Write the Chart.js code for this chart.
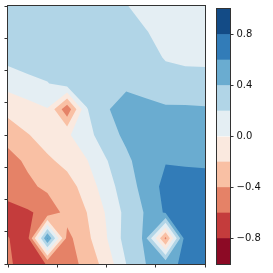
<!DOCTYPE html>
<html>
<head>
<meta charset="utf-8">
<script src="https://cdn.jsdelivr.net/npm/chart.js@4.4.1/dist/chart.umd.min.js"></script>
<style>
  html, body { margin: 0; padding: 0; background: #fff; }
  #wrap { position: relative; width: 273px; height: 273px; }
  #main { position: absolute; left: 0; top: 0; }
  #cbar { position: absolute; left: 210px; top: 0; }
</style>
</head>
<body>
<div id="wrap">
  <canvas id="main" width="273" height="273"></canvas>
  <canvas id="cbar" width="63" height="273"></canvas>
</div>
<script>
// Toạ độ lưới (11 x 11 nút)
const gridX = [0, 0.4, 0.8, 1.2, 1.6, 2.0, 2.4, 2.8, 3.2, 3.6, 4.0];
const gridY = [0, 0.8, 1.6, 2.4, 3.2, 4.0, 4.8, 5.6, 6.4, 7.2, 8.0];

// Giá trị z, mỗi hàng ứng với một giá trị gridY (từ dưới lên)
const zRow0  = [-0.57, -0.69, -0.59, -0.50, -0.33, -0.12, 0.20, 0.40, 0.55, 0.63, 0.70];
const zRow1  = [-0.595, -0.66, 0.62, -0.46, -0.25, -0.01, 0.28, 0.43, -0.45, 0.70, 0.72];
const zRow2  = [-0.66, -0.62, -0.55, -0.32, -0.20, 0.02, 0.26, 0.42, 0.63, 0.72, 0.73];
const zRow3  = [-0.52, -0.45, -0.35, -0.27, -0.13, 0.12, 0.30, 0.48, 0.66, 0.70, 0.70];
const zRow4  = [-0.48, -0.36, -0.23, -0.15, -0.01, 0.19, 0.36, 0.50, 0.59, 0.57, 0.56];
const zRow5  = [-0.32, -0.21, -0.12, -0.03, 0.13, 0.32, 0.44, 0.52, 0.52, 0.50, 0.50];
const zRow6  = [-0.138, -0.07, -0.01, -0.55, 0.19, 0.37, 0.55, 0.46, 0.43, 0.42, 0.41];
const zRow7  = [0.068, 0.12, 0.19, 0.30, 0.32, 0.36, 0.33, 0.32, 0.26, 0.30, 0.32];
const zRow8  = [0.265, 0.34, 0.33, 0.35, 0.36, 0.34, 0.30, 0.25, 0.19, 0.15, 0.13];
const zRow9  = [0.30, 0.33, 0.33, 0.34, 0.35, 0.32, 0.27, 0.21, 0.12, 0.10, 0.10];
const zRow10 = [0.30, 0.32, 0.32, 0.33, 0.33, 0.28, 0.21, 0.12, 0.10, 0.10, 0.10];
const zRows = [zRow0, zRow1, zRow2, zRow3, zRow4, zRow5, zRow6, zRow7, zRow8, zRow9, zRow10];

// Các mức contour và màu (RdBu)
const levels = [-1, -0.8, -0.6, -0.4, -0.2, 0, 0.2, 0.4, 0.6, 0.8, 1];
const bandColors = ['#8c0a25', '#c43c3c', '#e58267', '#f9c0a4', '#fae9df',
                    '#e4eef3', '#b1d5e7', '#6aacd0', '#327cb8', '#134b86'];

const xTicks = [0, 1, 2, 3, 4];
const yTicks = [0, 1, 2, 3, 4, 5, 6, 7, 8];
const cbarTicks = [-0.8, -0.4, 0, 0.4, 0.8];

const AXIS_COLOR = '#333';
const TICK_FONT = { family: "'DejaVu Sans', sans-serif", size: 10 };

// Cắt đa giác, giữ phần có v >= level (nội suy tuyến tính trên cạnh)
function clipAbove(poly, level) {
    const out = [];
    for (let n = 0; n < poly.length; n++) {
        const a = poly[n];
        const b = poly[(n + 1) % poly.length];
        const aIn = a.v >= level;
        const bIn = b.v >= level;
        if (aIn) out.push(a);
        if (aIn !== bIn) {
            const t = (level - a.v) / (b.v - a.v);
            out.push({ x: a.x + t * (b.x - a.x), y: a.y + t * (b.y - a.y), v: level });
        }
    }
    return out;
}

// Vẽ contour tô màu qua scale của Chart.js
const contourPlugin = {
    id: 'contourFill',
    beforeDatasetsDraw(chart) {
        const { ctx, chartArea, scales } = chart;
        const xs = scales.x, ys = scales.y;
        ctx.save();
        ctx.beginPath();
        ctx.rect(chartArea.left, chartArea.top, chartArea.right - chartArea.left, chartArea.bottom - chartArea.top);
        ctx.clip();
        for (let k = 0; k < bandColors.length; k++) {
            ctx.beginPath();
            for (let j = 0; j < gridY.length - 1; j++) {
                for (let i = 0; i < gridX.length - 1; i++) {
                    const quad = [
                        { x: gridX[i],     y: gridY[j],     v: zRows[j][i] },
                        { x: gridX[i + 1], y: gridY[j],     v: zRows[j][i + 1] },
                        { x: gridX[i + 1], y: gridY[j + 1], v: zRows[j + 1][i + 1] },
                        { x: gridX[i],     y: gridY[j + 1], v: zRows[j + 1][i] }
                    ];
                    const poly = clipAbove(quad, levels[k]);
                    if (poly.length < 3) continue;
                    poly.forEach((p, n) => {
                        const px = xs.getPixelForValue(p.x);
                        const py = ys.getPixelForValue(p.y);
                        if (n === 0) ctx.moveTo(px, py); else ctx.lineTo(px, py);
                    });
                    ctx.closePath();
                }
            }
            ctx.fillStyle = bandColors[k];
            ctx.fill();
        }
        ctx.restore();
    }
};

// Khung viền (spines)
const framePlugin = {
    id: 'frame',
    afterDraw(chart) {
        const { ctx, chartArea } = chart;
        ctx.save();
        ctx.strokeStyle = AXIS_COLOR;
        ctx.lineWidth = 1;
        ctx.strokeRect(Math.round(chartArea.left) - 0.5, Math.round(chartArea.top) - 0.5,
            Math.round(chartArea.right - chartArea.left) + 1, Math.round(chartArea.bottom - chartArea.top) + 1);
        ctx.restore();
    }
};

const tickGrid = { drawOnChartArea: false, drawTicks: true, tickLength: 3.5, color: AXIS_COLOR, lineWidth: 1 };

new Chart(document.getElementById('main'), {
    type: 'scatter',
    data: {
        datasets: [{
            data: gridY.flatMap(y => gridX.map(x => ({ x, y }))),
            pointRadius: 0,
            pointHoverRadius: 0
        }]
    },
    options: {
        responsive: false,
        animation: false,
        events: [],
        layout: { padding: { left: 0, top: 6, right: 68, bottom: 0 } },
        plugins: { legend: { display: false }, tooltip: { enabled: false } },
        scales: {
            x: {
                type: 'linear', min: 0, max: 4,
                afterBuildTicks: s => { s.ticks = xTicks.map(v => ({ value: v })); },
                afterFit: s => { s.height = 9; },
                ticks: { display: false },
                grid: tickGrid,
                border: { display: false }
            },
            y: {
                type: 'linear', min: 0, max: 8,
                afterBuildTicks: s => { s.ticks = yTicks.map(v => ({ value: v })); },
                afterFit: s => { s.width = 8; },
                ticks: { display: false },
                grid: tickGrid,
                border: { display: false }
            }
        }
    },
    plugins: [contourPlugin, framePlugin]
});

// Thanh màu (colorbar)
new Chart(document.getElementById('cbar'), {
    type: 'bar',
    data: {
        labels: [''],
        datasets: bandColors.map((c, k) => ({
            data: [[levels[k], levels[k + 1]]],
            backgroundColor: c,
            borderWidth: 0,
            barPercentage: 1,
            categoryPercentage: 1,
            grouped: false
        }))
    },
    options: {
        responsive: false,
        animation: false,
        events: [],
        layout: { padding: { left: 7, top: 6, right: 0, bottom: 9 } },
        plugins: { legend: { display: false }, tooltip: { enabled: false } },
        scales: {
            x: { display: false },
            y: {
                position: 'right', min: -1, max: 1,
                afterBuildTicks: s => { s.ticks = cbarTicks.map(v => ({ value: v })); },
                afterFit: s => { s.width = 43; },
                ticks: {
                    font: TICK_FONT,
                    color: '#111',
                    padding: 3,
                    callback: v => (v < 0 ? '\u2212' : '') + Math.abs(v).toFixed(1)
                },
                grid: tickGrid,
                border: { display: false }
            }
        }
    },
    plugins: [framePlugin]
});
</script>
</body>
</html>
